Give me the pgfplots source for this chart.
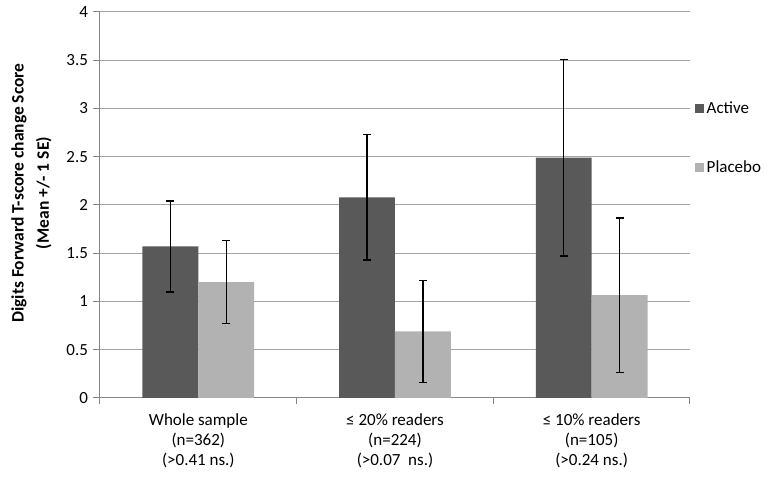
\documentclass[border=0pt]{standalone}
\usepackage{pgfplots}
\pgfplotsset{compat=1.18}
\usepackage{fontspec}
\setmainfont{Carlito}
\usetikzlibrary{calc}
\definecolor{active}{HTML}{595959}
\definecolor{placebo}{HTML}{B2B2B2}
\definecolor{gridc}{HTML}{A6A6A6}
\definecolor{axc}{HTML}{868686}
\newcommand{\cf}{\fontsize{12.75}{16}\selectfont}
\begin{document}
\begin{tikzpicture}
\begin{axis}[
  name=ax,
  scale only axis, width=442.5pt, height=289.5pt,
  ymin=0, ymax=4, ytick={0,0.5,1,1.5,2,2.5,3,3.5,4},
  xmin=-0.5, xmax=2.5,
  xtick={0,1,2},
  xticklabels={{Whole sample\\(n=362)\\(>0.41 ns.)},{≤ 20\% readers\\(n=224)\\(>0.07\ \ ns.)},{≤ 10\% readers\\(n=105)\\(>0.24 ns.)}},
  minor xtick={-0.5,0.5,1.5,2.5},
  major x tick style={draw=none},
  minor x tick style={axc, line width=0.75pt},
  ytick style={axc, line width=0.75pt},
  tick align=outside,
  major tick length=5.5pt, minor tick length=4.5pt,
  axis x line*=bottom, axis y line*=left,
  axis line style={axc, line width=0.75pt},
  ymajorgrids, grid style={gridc, line width=0.75pt},
  /pgf/number format/assume math mode=true,
  tick label style={font=\cf, black},
  xticklabel style={align=center, font=\fontsize{12.75}{14.9}\selectfont, yshift=-3pt},
  ylabel={Digits Forward T-score change Score\\[3pt](Mean +/- 1 SE)},
  ylabel style={align=center, font=\bfseries\fontsize{13.1}{16}\selectfont,
    at={(axis description cs:-0.1161,0.531)}, anchor=center},
  ybar, bar width=0.2843,
  legend style={at={(1.008,0.775)}, anchor=north west, draw=none, fill=none, font=\cf, row sep=30pt, inner sep=0pt},
  legend cell align=left,
  legend image code/.code={\fill[#1] (0pt,-3.4pt) rectangle (6.8pt,3.4pt);},
]
\addplot[fill=active, draw=none, bar shift=-0.14215,
  error bars/.cd, y dir=both, y explicit,
  error bar style={black, line width=1pt},
  error mark options={black, line width=1pt, mark size=3pt, rotate=90}]
  coordinates {(0,1.57) +- (0,0.47) (1,2.08) +- (0,0.65) (2,2.49) +- (0,1.02)};
\addplot[fill=placebo, draw=none, bar shift=0.14215,
  error bars/.cd, y dir=both, y explicit,
  error bar style={black, line width=1pt},
  error mark options={black, line width=1pt, mark size=3pt, rotate=90}]
  coordinates {(0,1.20) +- (0,0.43) (1,0.69) +- (0,0.53) (2,1.065) +- (0,0.80)};
\legend{Active,Placebo}
\end{axis}
\pgfresetboundingbox
\path ($(ax.south west)+(-75pt,-60pt)$) rectangle ($(ax.south west)+(501.75pt,298.5pt)$);
\end{tikzpicture}
\end{document}
